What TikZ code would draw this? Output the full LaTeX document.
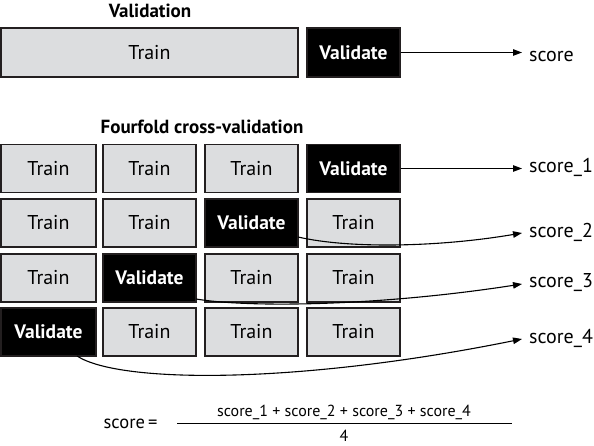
\documentclass[tikz,border=0pt]{standalone}
\usepackage{fontspec}
\setmainfont{PT Sans}
\usetikzlibrary{arrows.meta}
\definecolor{trainfill}{RGB}{220,221,223}
\definecolor{boxline}{RGB}{35,31,32}
\begin{document}
\begin{tikzpicture}[x=1pt,y=1pt,
  trainbox/.style={draw=boxline,fill=trainfill,line width=1.3pt,inner sep=0pt,
    minimum width=93pt,minimum height=48pt,font=\fontsize{20}{24}\selectfont},
  valbox/.style={draw=boxline,fill=black,text=white,line width=1.3pt,inner sep=0pt,
    minimum width=93pt,minimum height=48pt,font=\fontsize{19.5}{24}\selectfont\bfseries},
  scorelbl/.style={anchor=west,inner sep=0pt,text height=1ex,text depth=0pt,
    font=\fontsize{20}{24}\selectfont},
  titlelbl/.style={inner sep=0pt,font=\fontsize{19}{23}\selectfont\bfseries},
  conn/.style={line width=1.1pt,-{Triangle[length=9pt,width=6.5pt]},shorten >=7pt}
]
\useasboundingbox (0,0) rectangle (594,446);

% Validation
\node[titlelbl] (t1) at (150,435) {Validation};
\node[trainbox,minimum width=297pt,minimum height=49pt] (tr0) at (149.5,393.5) {Train};
\node[valbox,minimum height=49pt] (v0) at (353.5,393.5) {Validate};
\node[scorelbl] (s0) at (529,387) {score};
\draw[conn] (v0.east) -- (s0.west |- v0.east);

% Fourfold
\node[titlelbl] (t2) at (202,319) {Fourfold cross-validation};

% row 1
\node[trainbox,minimum width=95pt] (a11) at (48.5,277.5) {Train};
\node[trainbox] (a12) at (149.5,277.5) {Train};
\node[trainbox] (a13) at (251.5,277.5) {Train};
\node[valbox] (v1) at (353.5,277.5) {Validate};
% row 2
\node[trainbox,minimum width=95pt] (a21) at (48.5,223) {Train};
\node[trainbox] (a22) at (149.5,223) {Train};
\node[valbox] (v2) at (251.5,223) {Validate};
\node[trainbox] (a24) at (353.5,223) {Train};
% row 3
\node[trainbox,minimum width=95pt] (a31) at (48.5,168) {Train};
\node[valbox] (v3) at (149.5,168) {Validate};
\node[trainbox] (a33) at (251.5,168) {Train};
\node[trainbox] (a34) at (353.5,168) {Train};
% row 4
\node[valbox,minimum width=95pt] (v4) at (48.5,114) {Validate};
\node[trainbox] (a42) at (149.5,114) {Train};
\node[trainbox] (a43) at (251.5,114) {Train};
\node[trainbox] (a44) at (353.5,114) {Train};

% scores
\node[scorelbl] (s1) at (529,276) {score\_1};
\node[scorelbl] (s2) at (529,211) {score\_2};
\node[scorelbl] (s3) at (529,161) {score\_3};
\node[scorelbl] (s4) at (529,105) {score\_4};

\coordinate (p2) at (298,209);
\coordinate (p3) at (196,147);
\coordinate (p4) at (77,90);
\coordinate (q2) at (522,213);
\coordinate (q3) at (522,162);
\coordinate (q4) at (522,107);

\draw[conn] (v1.east) -- (s1.west |- v1.east);
\draw[conn,shorten >=0pt] (p2) .. controls (350,197) and (440,199) .. (q2);
\draw[conn,shorten >=0pt] (p3) .. controls (250,138) and (380,140) .. (q3);
\draw[conn,shorten >=0pt] (p4) .. controls (120,62) and (300,62) .. (q4);

% formula
\node[inner sep=0pt,anchor=base,font=\fontsize{18.5}{22}\selectfont] (eq) at (130.5,17) {score\,=};
\coordinate (fl) at (177,22);
\coordinate (fr) at (512,22);
\draw[line width=1pt] (fl) -- (fr);
\node[inner sep=0pt,anchor=base,font=\fontsize{16}{19}\selectfont] (num) at (344,29) {score\_1 + score\_2 + score\_3 + score\_4};
\node[inner sep=0pt,anchor=base,font=\fontsize{16}{19}\selectfont] (den) at (344,4) {4};
\end{tikzpicture}
\end{document}
